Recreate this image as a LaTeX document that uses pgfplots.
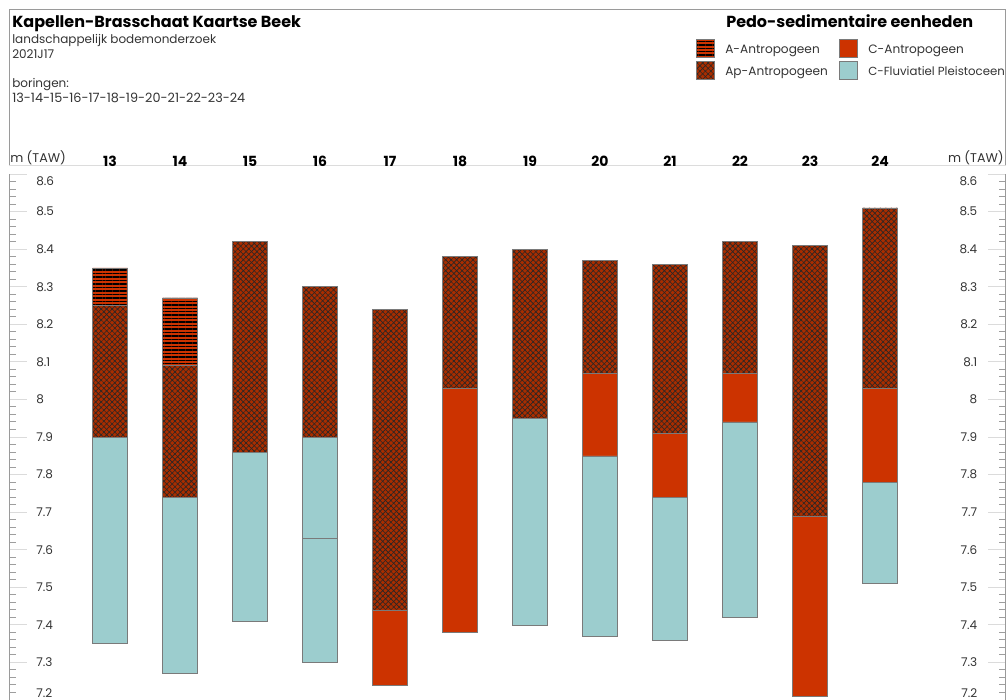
\documentclass[border=0pt]{standalone}
\usepackage{fontspec}
\setmainfont{Poppins}
\usepackage{pgfplots}
\pgfplotsset{compat=1.18}
\usepackage{pgfplotstable}
\usetikzlibrary{patterns.meta}

\definecolor{cantro}{HTML}{CC3300}
\definecolor{fluv}{HTML}{9CCDCE}
\definecolor{apbase}{HTML}{A82D00}
\definecolor{outl}{HTML}{7A7A7A}
\definecolor{framec}{HTML}{9A9A9A}
\definecolor{sepc}{HTML}{DCDCDC}
\definecolor{txt}{HTML}{333333}

% Layer boundaries per boring (m TAW): bottom, top of lower C-Fluv, top of upper C-Fluv,
% top of C-Antropogeen, top of Ap-Antropogeen, top of A-Antropogeen.
% A layer that is absent has its top equal to the top of the layer below.
\pgfplotstableread{
n  bot   fa    fb    ca    ap    a
13 7.35  7.90  7.90  7.90  8.25  8.35
14 7.27  7.74  7.74  7.74  8.09  8.27
15 7.41  7.86  7.86  7.86  8.42  8.42
16 7.30  7.63  7.90  7.90  8.30  8.30
17 7.24  7.24  7.24  7.44  8.24  8.24
18 7.38  7.38  7.38  8.03  8.38  8.38
19 7.40  7.95  7.95  7.95  8.40  8.40
20 7.37  7.85  7.85  8.07  8.37  8.37
21 7.36  7.74  7.74  7.91  8.36  8.36
22 7.42  7.94  7.94  8.07  8.42  8.42
23 7.21  7.21  7.21  7.69  8.41  8.41
24 7.51  7.78  7.78  8.03  8.51  8.51
}\borings

\tikzset{
  layerA/.style={draw=outl, line width=0.4pt, preaction={fill=cantro},
    pattern={Lines[angle=0,distance=2.6pt,line width=1.1pt]}, pattern color=black},
  layerAp/.style={draw=outl, line width=0.4pt, preaction={fill=apbase},
    preaction={pattern={Lines[angle=45,distance=2.9pt,line width=0.45pt]},pattern color=black!85},
    pattern={Lines[angle=-45,distance=2.9pt,line width=0.45pt]}, pattern color=black!85},
  layerC/.style={draw=outl, line width=0.4pt, fill=cantro},
  layerF/.style={draw=outl, line width=0.4pt, fill=fluv},
}

\pgfplotsset{
  depthaxis/.style={
    scale only axis, width=747.375pt, height=394.5pt,
    at={(6.75pt,-525pt)}, anchor=south west,
    xmin=11.5571, xmax=25.793, ymin=7.2, ymax=8.6,
    clip=false,
    /pgf/number format/assume math mode=true,
    ytick={7.2,7.3,7.4,7.5,7.6,7.7,7.8,7.9,8,8.1,8.2,8.3,8.4,8.5,8.6},
    yticklabels={{},7.3,7.4,7.5,7.6,7.7,7.8,7.9,8,8.1,8.2,8.3,8.4,8.5,{}},
    minor y tick num=4,
    tick align=inside,
    major tick length=13.5pt, minor tick length=5.25pt,
    major y tick style={draw=black!14, line width=0.75pt},
    minor y tick style={draw=black!38, line width=0.75pt},
    y axis line style={draw=framec, line width=0.75pt, -},
    yticklabel style={font=\fontsize{9}{10}\selectfont, text=txt, inner sep=0pt},
  },
}

\begin{document}
\begin{tikzpicture}
\useasboundingbox (0,0) rectangle (756pt,-525pt);

% header block
\begin{scope}[x=0.75pt, y=-0.75pt]
  \draw[framec, line width=0.75pt] (9,166) -- (9,9) -- (1005.5,9) -- (1005.5,166);
  \draw[sepc, line width=0.75pt] (9,165) -- (1005.5,165);
  \node[anchor=base west, inner sep=0pt, font=\fontsize{12}{14}\selectfont\bfseries]
    at (12,27) {Kapellen-Brasschaat Kaartse Beek};
  \begin{scope}[every node/.style={anchor=base west, inner sep=0pt, text=txt,
      font=\fontsize{9}{10}\selectfont}]
    \node at (12,43) {landschappelijk bodemonderzoek};
    \node at (12,58) {2021J17};
    \node at (12,87) {boringen:};
    \node[font=\fontsize{9.6}{10}\selectfont] at (12,102) {13-14-15-16-17-18-19-20-21-22-23-24};
    \node[font=\fontsize{9.5}{10}\selectfont] at (10,162) {m (TAW)};
    \node[anchor=base east, font=\fontsize{9.5}{10}\selectfont] at (1004,162) {m (TAW)};
  \end{scope}
  % legend of the soil units
  \node[anchor=base west, inner sep=0pt, font=\fontsize{12}{14}\selectfont\bfseries]
    at (726,27) {Pedo-sedimentaire eenheden};
  \path[layerA]  (696,39) rectangle (714,57);
  \path[layerAp] (696,61) rectangle (714,79);
  \path[layerC]  (839,39) rectangle (857,57);
  \path[layerF]  (839,61) rectangle (857,79);
  \begin{scope}[every node/.style={anchor=base west, inner sep=0pt, text=txt,
      font=\fontsize{9.1}{10}\selectfont}]
    \node at (725,53) {A-Antropogeen};
    \node at (725,75) {Ap-Antropogeen};
    \node at (868,53) {C-Antropogeen};
    \node[font=\fontsize{8.8}{10}\selectfont] at (868,75) {C-Fluviatiel Pleistoceen};
  \end{scope}
\end{scope}

% left scale, borings and boring numbers
\begin{axis}[depthaxis,
  axis y line*=left, axis x line*=top,
  x axis line style={draw=none},
  major x tick style={draw=none},
  xtick={13,...,24},
  xticklabel style={font=\fontsize{10.5}{12}\selectfont\bfseries, anchor=base, inner sep=0pt, yshift=6pt},
  yticklabel style={anchor=west, xshift=20.25pt},
  ybar stacked, bar width=0.5,
]
  \addplot[draw=none, fill=none] table[x=n, y=bot] {\borings};
  \addplot[layerF]  table[x=n, y expr=\thisrow{fa}-\thisrow{bot}] {\borings};
  \addplot[layerF]  table[x=n, y expr=\thisrow{fb}-\thisrow{fa}] {\borings};
  \addplot[layerC]  table[x=n, y expr=\thisrow{ca}-\thisrow{fb}] {\borings};
  \addplot[layerAp] table[x=n, y expr=\thisrow{ap}-\thisrow{ca}] {\borings};
  \addplot[layerA]  table[x=n, y expr=\thisrow{a}-\thisrow{ap}] {\borings};
  \node[anchor=west, inner sep=0pt, font=\fontsize{9}{10}\selectfont, text=txt]
    at (axis cs:11.5571,8.6) [xshift=20.25pt, yshift=-5.25pt] {8.6};
  \node[anchor=west, inner sep=0pt, font=\fontsize{9}{10}\selectfont, text=txt]
    at (axis cs:11.5571,7.2) [xshift=20.25pt, yshift=5.25pt] {7.2};
\end{axis}

% right scale
\begin{axis}[depthaxis,
  axis y line*=right, axis x line=none,
  yticklabel style={anchor=east, xshift=-21pt},
]
  \node[anchor=east, inner sep=0pt, font=\fontsize{9}{10}\selectfont, text=txt]
    at (axis cs:25.793,8.6) [xshift=-21pt, yshift=-5.25pt] {8.6};
  \node[anchor=east, inner sep=0pt, font=\fontsize{9}{10}\selectfont, text=txt]
    at (axis cs:25.793,7.2) [xshift=-21pt, yshift=5.25pt] {7.2};
\end{axis}
\end{tikzpicture}
\end{document}
